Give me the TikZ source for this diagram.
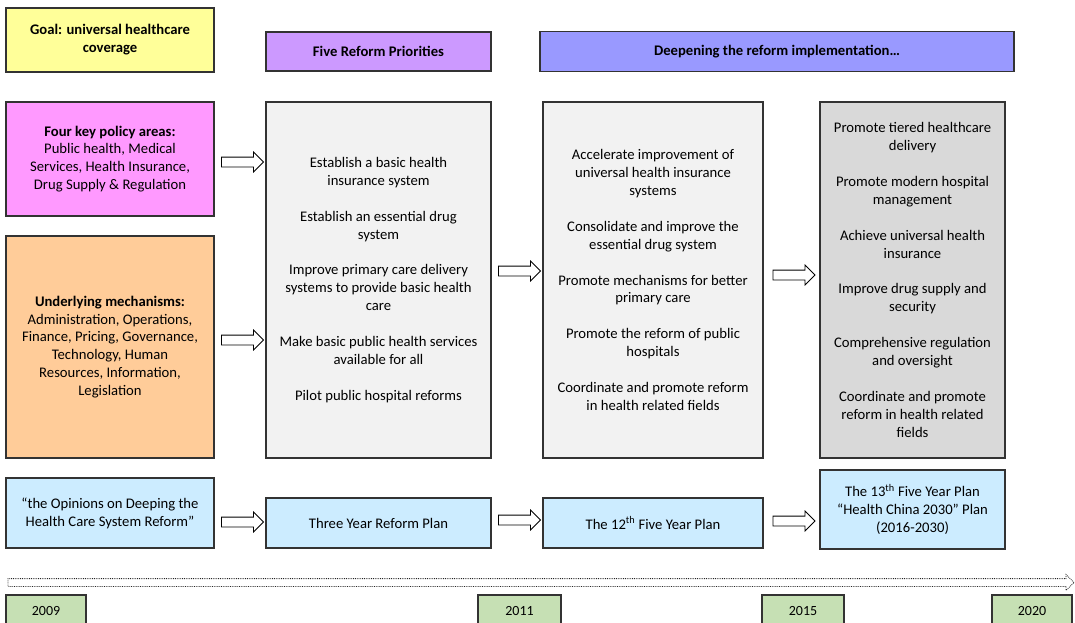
\documentclass[tikz,border=0pt]{standalone}
\usepackage{fontspec}
\setmainfont{Carlito}
\usetikzlibrary{shapes.arrows,calc}
\definecolor{cyellow}{HTML}{FFFF99}
\definecolor{cpurple}{HTML}{CC99FF}
\definecolor{cviolet}{HTML}{9999FF}
\definecolor{cpink}{HTML}{FF99FF}
\definecolor{corange}{HTML}{FFCC99}
\definecolor{clgray}{HTML}{F2F2F2}
\definecolor{cdgray}{HTML}{D9D9D9}
\definecolor{cblue}{HTML}{CCECFF}
\definecolor{cgreen}{HTML}{C6E0B4}
\begin{document}
\begin{tikzpicture}[x=1pt,y=-1pt,
  box/.style={draw=black!80,line width=1.1pt,inner sep=0pt,align=center,
    font=\fontsize{14.67}{17.9}\selectfont},
  blockarrow/.style={single arrow,draw=black,line width=0.8pt,fill=white,
    minimum height=42pt,minimum width=19pt,single arrow head extend=5pt,
    inner xsep=0pt,inner ysep=4.5pt},
  yearbox/.style={draw=black!80,line width=1.1pt,fill=cgreen,inner sep=0pt,
    minimum height=32pt,font=\fontsize{14}{16}\selectfont}]
\useasboundingbox (0,0) rectangle (1075,622);

% top row
\node[box,fill=cyellow,minimum width=208pt,minimum height=64pt,font=\fontsize{14.67}{17.9}\selectfont\bfseries] (goal) at (110,40) {Goal: universal healthcare\\coverage};
\node[box,fill=cpurple,minimum width=225pt,minimum height=39pt,font=\fontsize{14.67}{17.9}\selectfont\bfseries] (five) at (378.5,51.5) {Five Reform Priorities};
\node[box,fill=cviolet,minimum width=474pt,minimum height=40pt,font=\fontsize{14.67}{17.9}\selectfont\bfseries] (deep) at (777,51.5) {Deepening the reform implementation…};

% left column
\node[box,fill=cpink,minimum width=208pt,minimum height=114pt] (four) at (110,159) {\textbf{Four key policy areas:}\\Public health, Medical\\Services, Health Insurance,\\Drug Supply \& Regulation};
\node[box,fill=corange,minimum width=208pt,minimum height=222pt] (under) at (110,347) {\textbf{Underlying mechanisms:}\\Administration, Operations,\\Finance, Pricing, Governance,\\Technology, Human\\Resources, Information,\\Legislation};

% big columns
\node[box,fill=clgray,minimum width=225pt,minimum height=356pt] (col1) at (378.5,280) {Establish a basic health\\insurance system\\[17.9pt]Establish an essential drug\\system\\[17.9pt]Improve primary care delivery\\systems to provide basic health\\care\\[17.9pt]Make basic public health services\\available for all\\[17.9pt]Pilot public hospital reforms};
\node[box,fill=clgray,minimum width=220pt,minimum height=356pt] (col2) at (653,280) {Accelerate improvement of\\universal health insurance\\systems\\[17.9pt]Consolidate and improve the\\essential drug system\\[17.9pt]Promote mechanisms for better\\primary care\\[17.9pt]Promote the reform of public\\hospitals\\[17.9pt]Coordinate and promote reform\\in health related fields};
\node[box,fill=cdgray,minimum width=185pt,minimum height=356pt] (col3) at (912.5,280) {Promote tiered healthcare\\delivery\\[17.9pt]Promote modern hospital\\management\\[17.9pt]Achieve universal health\\insurance\\[17.9pt]Improve drug supply and\\security\\[17.9pt]Comprehensive regulation\\and oversight\\[17.9pt]Coordinate and promote\\reform in health related\\fields};

% bottom row
\node[box,fill=cblue,minimum width=208pt,minimum height=70pt] (opin) at (110,513) {“the Opinions on Deeping the\\Health Care System Reform”};
\node[box,fill=cblue,minimum width=225pt,minimum height=50pt] (three) at (378.5,523) {Three Year Reform Plan};
\node[box,fill=cblue,minimum width=220pt,minimum height=50pt] (twelve) at (653,523) {The 12\textsuperscript{th} Five Year Plan};
\node[box,fill=cblue,minimum width=185pt,minimum height=79pt] (thirteen) at (912.5,509.5) {The 13\textsuperscript{th} Five Year Plan\\“Health China 2030” Plan\\(2016-2030)};

% block arrows
\node[blockarrow] (a1) at ($(four.east)!.5!(col1.west|-four.east)+(0,3)$) {};
\node[blockarrow] (a2) at ($(under.east)!.5!(col1.west|-under.east)+(0,-7)$) {};
\node[blockarrow] (a3) at ($(col1.east)!.5!(col2.west)+(0,-9)$) {};
\node[blockarrow] (a4) at ($(col2.east)!.5!(col3.west)+(0,-5)$) {};
\node[blockarrow] (a5) at ($(opin.east)!.5!(three.west|-opin.east)+(0,9)$) {};
\node[blockarrow] (a6) at ($(three.east)!.5!(twelve.west)+(0,-3)$) {};
\node[blockarrow] (a7) at ($(twelve.east)!.5!(thirteen.west|-twelve.east)+(0,-2)$) {};

% timeline
\node[single arrow,draw=black!85,densely dotted,line width=0.8pt,minimum height=1066pt,
  minimum width=15pt,single arrow head extend=4pt,inner xsep=0pt,inner ysep=3.5pt] (timeline) at (539,582.5) {};

% years
\node[yearbox,minimum width=80pt] (y2009) at (46,611) {2009};
\node[yearbox,minimum width=83pt] (y2011) at (519.5,611) {2011};
\node[yearbox,minimum width=82pt] (y2015) at (803,611) {2015};
\node[yearbox,minimum width=80pt] (y2020) at (1032,611) {2020};
\end{tikzpicture}
\end{document}
